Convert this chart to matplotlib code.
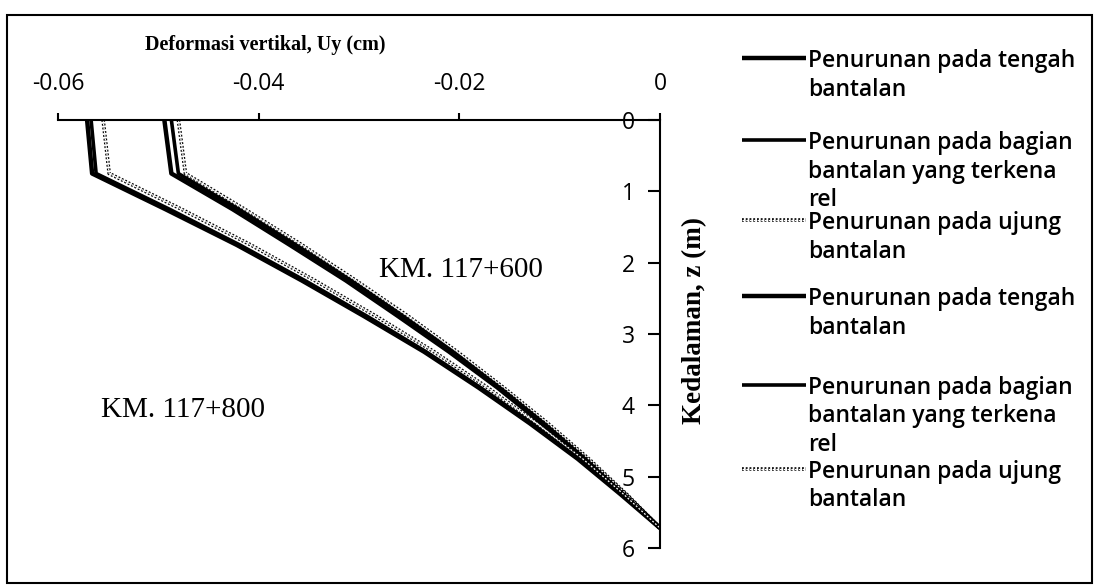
import matplotlib.pyplot as plt
import matplotlib.patheffects as pe
from matplotlib.lines import Line2D
from matplotlib.patches import Rectangle

# depth (m) and vertical deformation Uy (cm)
depth = [0, 0.75, 1.25, 1.75, 2.25, 2.75, 3.25, 3.75, 4.25, 4.75, 5.25, 5.72]

km600_tengah = [-0.0494, -0.0487, -0.0426, -0.0369, -0.0313, -0.0261, -0.0210, -0.0162, -0.0118, -0.0075, -0.0035, 0]
km600_bagian = [-0.0487, -0.0480, -0.0420, -0.0363, -0.0308, -0.0256, -0.0206, -0.0159, -0.0115, -0.0073, -0.0034, 0]
km600_ujung = [-0.0480, -0.0473, -0.0414, -0.0357, -0.0303, -0.0251, -0.0202, -0.0156, -0.0112, -0.0071, -0.0033, 0]

km800_tengah = [-0.0571, -0.0566, -0.0493, -0.0422, -0.0357, -0.0295, -0.0235, -0.0181, -0.0130, -0.0082, -0.0039, 0]
km800_bagian = [-0.0567, -0.0562, -0.0489, -0.0419, -0.0354, -0.0292, -0.0233, -0.0179, -0.0128, -0.0081, -0.0038, 0]
km800_ujung = [-0.0555, -0.0549, -0.0477, -0.0408, -0.0344, -0.0283, -0.0225, -0.0172, -0.0123, -0.0077, -0.0036, 0]

labels = ['Penurunan pada tengah\nbantalan',
          'Penurunan pada bagian\nbantalan yang terkena\nrel',
          'Penurunan pada ujung\nbantalan'] * 2

x_ticks = [-0.06, -0.04, -0.02, 0]
x_ticklabels = ['-0.06', '-0.04', '-0.02', '0']
y_ticks = [0, 1, 2, 3, 4, 5, 6]

W, H = 1096, 585
fig = plt.figure(figsize=(W / 100, H / 100), dpi=100)
ax = fig.add_axes([58 / W, 1 - 548 / H, (660 - 58) / W, (548 - 120) / H])

solid_thick = dict(color='black', lw=3.2)
solid_mid = dict(color='black', lw=2.6)
dotted = dict(color='white', lw=0.9, ls=(0, (1.5, 1.5)),
              path_effects=[pe.Stroke(linewidth=2.6, foreground='black'), pe.Normal()])
styles = [solid_thick, solid_mid, dotted, solid_thick, solid_mid, dotted]

series = [km600_tengah, km600_bagian, km600_ujung,
          km800_tengah, km800_bagian, km800_ujung]
for s, st in zip(series, styles):
    ax.plot(s, depth, solid_capstyle='butt', **st)

ax.set_xlim(-0.06, 0)
ax.set_ylim(6, 0)
ax.xaxis.tick_top()
ax.set_xticks(x_ticks)
ax.set_xticklabels(x_ticklabels)
ax.set_yticks(y_ticks)

ax.spines['left'].set_position(('data', 0))
ax.spines['right'].set_visible(False)
ax.spines['bottom'].set_visible(False)
for sp in ['left', 'top']:
    ax.spines[sp].set_linewidth(1.5)

for lab in ax.get_xticklabels() + ax.get_yticklabels():
    lab.set_fontfamily('Open Sans')
    lab.set_fontsize(16.5)
ax.tick_params(axis='x', direction='out', length=5, width=1.5, pad=12)
ax.tick_params(axis='y', direction='out', length=9, width=1.5, pad=9)

ax.text(0.344, 1.175, 'Deformasi vertikal, Uy (cm)', transform=ax.transAxes,
        family='Liberation Serif', fontweight='bold', fontsize=14.5,
        ha='center', va='center')
fig.text(695 / W, 1 - 320 / H, 'Kedalaman, z (m)', family='Liberation Serif',
         fontweight='bold', fontsize=19.5, rotation=90, ha='center', va='center')

ax.text(-0.0198, 2.1, 'KM. 117+600', family='Liberation Serif', fontsize=21,
        ha='center', va='center')
ax.text(-0.0475, 4.06, 'KM. 117+800', family='Liberation Serif', fontsize=21,
        ha='center', va='center')

# legend drawn by hand to follow the spacing of the original
legend_y = [58, 140, 220, 296, 385, 469]
for y, lab, st in zip(legend_y, labels, styles):
    fig.add_artist(Line2D([742 / W, 806 / W], [1 - y / H] * 2,
                          transform=fig.transFigure, solid_capstyle='butt', **st))
    fig.text(808 / W, 1 - (y - 9) / H, lab, family='Open Sans', fontweight='semibold',
             fontsize=16.5, va='top', ha='left', linespacing=1.25)

fig.add_artist(Rectangle((7 / W, 2 / H), (1092 - 7) / W, (583 - 15) / H,
                         transform=fig.transFigure, fill=False, lw=1.5,
                         edgecolor='black'))

fig.savefig('out.png', dpi=100)
